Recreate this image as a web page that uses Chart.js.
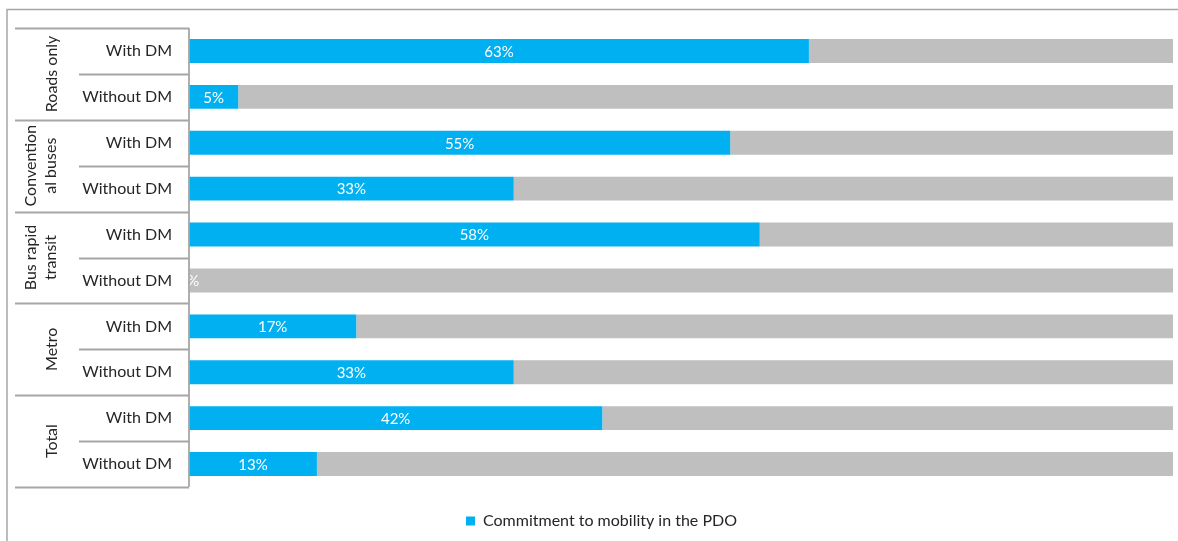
<!DOCTYPE html>
<html>
<head>
<meta charset="utf-8">
<script src="https://cdn.jsdelivr.net/npm/chart.js@4.4.1/dist/chart.umd.min.js"></script>
<style>
  html, body { margin: 0; padding: 0; background: #ffffff; }
  #wrap { position: relative; width: 1178px; height: 541px; }
</style>
</head>
<body>
<div id="wrap"><canvas id="chart" width="1178" height="541"></canvas></div>
<script>
// Sub-category rows (top to bottom)
const categories = ["With DM", "Without DM", "With DM", "Without DM", "With DM",
                    "Without DM", "With DM", "Without DM", "With DM", "Without DM"];
// Outer groups, each spanning two rows; multi-line text as arrays
const groups = [["Roads only"], ["Convention", "al buses"], ["Bus rapid", "transit"], ["Metro"], ["Total"]];
// Share of projects with mobility commitment in the PDO (%)
const commitment = [63, 5, 55, 33, 58, 0, 17, 33, 42, 13];
// Remainder up to 100%
const remainder = [37, 95, 45, 67, 42, 100, 83, 67, 58, 87];

const FONT = "Lato, 'Open Sans', sans-serif";
const LINE = "#a6a6a6";

// Outer frame (top and left edges)
const framePlugin = {
  id: "frame",
  beforeDraw(chart) {
    const ctx = chart.ctx;
    ctx.save();
    ctx.strokeStyle = "#a6a6a6";
    ctx.lineWidth = 1.5;
    ctx.beginPath();
    ctx.moveTo(7, 541);
    ctx.lineTo(7, 9.5);
    ctx.lineTo(1178, 9.5);
    ctx.stroke();
    ctx.restore();
  }
};

// Two-level category axis: separators and rotated group names
const groupAxisPlugin = {
  id: "groupAxis",
  afterDraw(chart) {
    const ctx = chart.ctx;
    const y = chart.scales.y;
    const area = chart.chartArea;
    const n = categories.length;
    const step = y.getPixelForValue(1) - y.getPixelForValue(0);
    const edge = i => y.getPixelForValue(i) - step / 2;
    ctx.save();
    ctx.strokeStyle = LINE;
    ctx.lineWidth = 1.8;
    // vertical axis line
    ctx.beginPath();
    ctx.moveTo(area.left, edge(0));
    ctx.lineTo(area.left, edge(n));
    ctx.stroke();
    for (let i = 0; i <= n; i++) {
      const py = Math.round(edge(i)) + 0.5;
      const x0 = (i % 2 === 0) ? 15 : 79;
      ctx.beginPath();
      ctx.moveTo(x0, py);
      ctx.lineTo(area.left, py);
      ctx.stroke();
    }
    ctx.fillStyle = "#262626";
    ctx.font = "16px " + FONT;
    ctx.textAlign = "center";
    ctx.textBaseline = "middle";
    groups.forEach((lines, g) => {
      const cy = (edge(2 * g) + edge(2 * g + 2)) / 2;
      const xs = lines.length === 1 ? [52] : [31, 51];
      lines.forEach((t, k) => {
        ctx.save();
        ctx.translate(xs[k], cy);
        ctx.rotate(-Math.PI / 2);
        ctx.fillText(t, 0, 0);
        ctx.restore();
      });
    });
    ctx.restore();
  }
};

// Percentage labels centred in the blue segments
const valueLabelPlugin = {
  id: "valueLabels",
  afterDatasetsDraw(chart) {
    const ctx = chart.ctx;
    const area = chart.chartArea;
    const meta = chart.getDatasetMeta(0);
    ctx.save();
    ctx.beginPath();
    ctx.rect(area.left, area.top, area.right - area.left, area.bottom - area.top);
    ctx.clip();
    ctx.fillStyle = "#ffffff";
    ctx.font = "15px " + FONT;
    ctx.textAlign = "center";
    ctx.textBaseline = "middle";
    meta.data.forEach((bar, i) => {
      const cx = (bar.x + bar.base) / 2;
      ctx.fillText(commitment[i] + "%", cx, bar.y + 1);
    });
    ctx.restore();
  }
};

new Chart(document.getElementById("chart"), {
  type: "bar",
  data: {
    labels: categories,
    datasets: [
      {
        label: "Commitment to mobility in the PDO",
        data: commitment,
        backgroundColor: "#00b0f0",
        categoryPercentage: 1,
        barPercentage: 0.52
      },
      {
        label: "Remainder",
        data: remainder,
        backgroundColor: "#bfbfbf",
        categoryPercentage: 1,
        barPercentage: 0.52
      }
    ]
  },
  options: {
    indexAxis: "y",
    responsive: false,
    animation: false,
    layout: { padding: { left: 30, right: 5, top: 28, bottom: 2 } },
    scales: {
      x: {
        stacked: true,
        min: 0,
        max: 100,
        display: true,
        grid: { display: false, drawTicks: false },
        border: { display: false },
        ticks: { display: false },
        afterFit(scale) { scale.height = 18; }
      },
      y: {
        stacked: true,
        grid: { display: false, drawTicks: false },
        border: { display: false },
        ticks: {
          padding: 17,
          color: "#262626",
          font: { family: FONT, size: 16 }
        },
        afterFit(scale) { scale.width = 159; }
      }
    },
    plugins: {
      tooltip: { enabled: false },
      legend: {
        position: "bottom",
        labels: {
          filter: item => item.datasetIndex === 0,
          boxWidth: 9,
          boxHeight: 9,
          padding: 8,
          color: "#262626",
          font: { family: FONT, size: 16 }
        }
      }
    }
  },
  plugins: [framePlugin, groupAxisPlugin, valueLabelPlugin]
});
</script>
</body>
</html>
